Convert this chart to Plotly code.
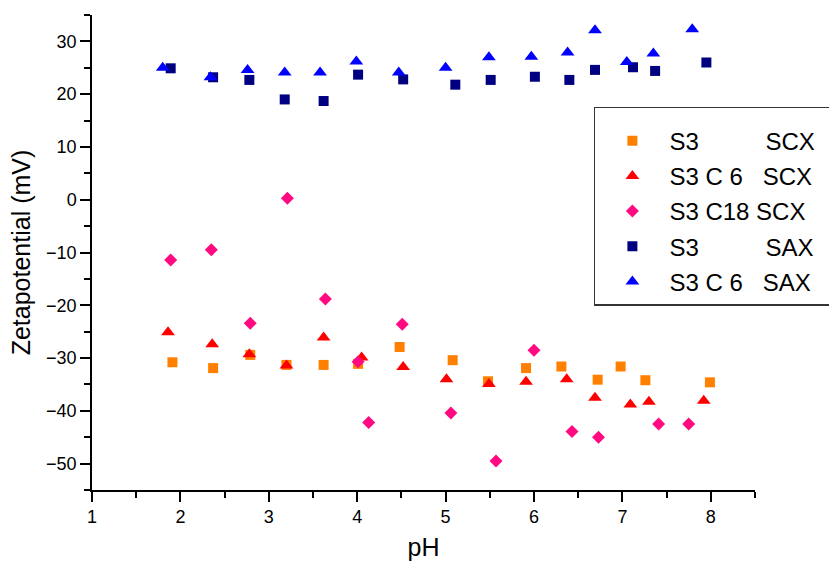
import plotly.graph_objects as go

NB = "\u00a0"

# S3 SCX (orange squares)
s3_scx_ph = [1.91, 2.37, 2.79, 3.20, 3.62, 4.01, 4.48, 5.08, 5.48, 5.91, 6.31, 6.72, 6.98, 7.26, 7.99]
s3_scx_zp = [-30.8, -31.9, -29.4, -31.3, -31.3, -31.1, -27.9, -30.4, -34.4, -31.9, -31.6, -34.1, -31.6, -34.2, -34.6]

# S3 C6 SCX (red triangles)
s3c6_scx_ph = [1.86, 2.36, 2.78, 3.20, 3.62, 4.05, 4.52, 5.01, 5.49, 5.91, 6.37, 6.69, 7.09, 7.30, 7.92]
s3c6_scx_zp = [-25.1, -27.4, -29.3, -31.4, -26.1, -29.9, -31.7, -34.0, -34.9, -34.5, -34.0, -37.5, -38.8, -38.3, -38.1]

# S3 C18 SCX (pink diamonds)
s3c18_scx_ph = [1.89, 2.35, 2.79, 3.21, 3.64, 4.01, 4.13, 4.51, 5.06, 5.57, 6.00, 6.43, 6.73, 7.41, 7.75]
s3c18_scx_zp = [-11.4, -9.5, -23.4, 0.3, -18.8, -30.7, -42.2, -23.6, -40.4, -49.5, -28.5, -43.9, -45.0, -42.5, -42.5]

# S3 SAX (navy squares)
s3_sax_ph = [1.89, 2.37, 2.78, 3.18, 3.62, 4.01, 4.52, 5.11, 5.51, 6.01, 6.40, 6.69, 7.12, 7.37, 7.95]
s3_sax_zp = [24.9, 23.2, 22.7, 19.0, 18.7, 23.7, 22.8, 21.8, 22.7, 23.3, 22.7, 24.6, 25.1, 24.4, 26.0]

# S3 C6 SAX (blue triangles)
s3c6_sax_ph = [1.80, 2.34, 2.76, 3.18, 3.58, 3.99, 4.47, 5.00, 5.49, 5.97, 6.38, 6.69, 7.05, 7.35, 7.79]
s3c6_sax_zp = [25.0, 23.2, 24.6, 24.1, 24.1, 26.2, 24.1, 25.0, 27.0, 27.1, 27.9, 32.1, 26.1, 27.7, 32.3]

TAIL = NB * 2
names = [
    "S3" + NB * 10 + "SCX" + TAIL,
    "S3 C 6" + NB * 3 + "SCX" + TAIL,
    "S3 C18 SCX" + TAIL,
    "S3" + NB * 10 + "SAX" + TAIL,
    "S3 C 6" + NB * 3 + "SAX" + TAIL,
]
series = [
    (s3_scx_ph, s3_scx_zp, "square", "#FF8000", 10),
    (s3c6_scx_ph, s3c6_scx_zp, "triangle-up", "#FF0000", 12),
    (s3c18_scx_ph, s3c18_scx_zp, "diamond", "#FF0A80", 10),
    (s3_sax_ph, s3_sax_zp, "square", "#000080", 10),
    (s3c6_sax_ph, s3c6_sax_zp, "triangle-up", "#0000FF", 12),
]

fig = go.Figure()
for i, (name, (x, y, sym, col, sz)) in enumerate(zip(names, series)):
    fig.add_trace(go.Scatter(
        x=x, y=y, mode="markers", name=name, legendgroup=f"g{i}",
        marker=dict(symbol=sym, color=col, size=sz, line=dict(width=0)),
    ))

axis_common = dict(
    showline=True, linecolor="black", linewidth=1.5, mirror=False,
    ticks="outside", ticklen=10, tickwidth=1.5, tickcolor="black",
    showgrid=False, zeroline=False,
    tickfont=dict(family="Liberation Sans, Arial", size=18, color="black"),
)

fig.update_layout(
    width=829, height=563,
    margin=dict(l=92, r=74, t=15, b=73, autoexpand=False),
    paper_bgcolor="white", plot_bgcolor="white",
    font=dict(family="Liberation Sans, Arial", color="black"),
    xaxis=dict(
        range=[1, 8.5], dtick=1, tick0=1,
        title=dict(text="pH", font=dict(size=25), standoff=12),
        minor=dict(dtick=0.5, ticks="outside", ticklen=6, tickwidth=1.5, tickcolor="black"),
        **axis_common,
    ),
    yaxis=dict(
        range=[-55, 35], dtick=10, tick0=0,
        title=dict(text="Zetapotential (mV)", font=dict(size=25), standoff=8),
        minor=dict(dtick=5, ticks="outside", ticklen=6, tickwidth=1.5, tickcolor="black"),
        **axis_common,
    ),
    showlegend=True,
    legend=dict(
        x=0.757, y=0.807, xanchor="left", yanchor="top",
        xref="paper", yref="paper",
        bgcolor="white", bordercolor="#333333", borderwidth=1.5,
        font=dict(family="Liberation Sans, Arial", size=24, color="black"),
        title=dict(text=NB, font=dict(size=8)),
        traceorder="grouped", tracegroupgap=1,
        itemwidth=64,
    ),
)

fig.write_html("out.html")
